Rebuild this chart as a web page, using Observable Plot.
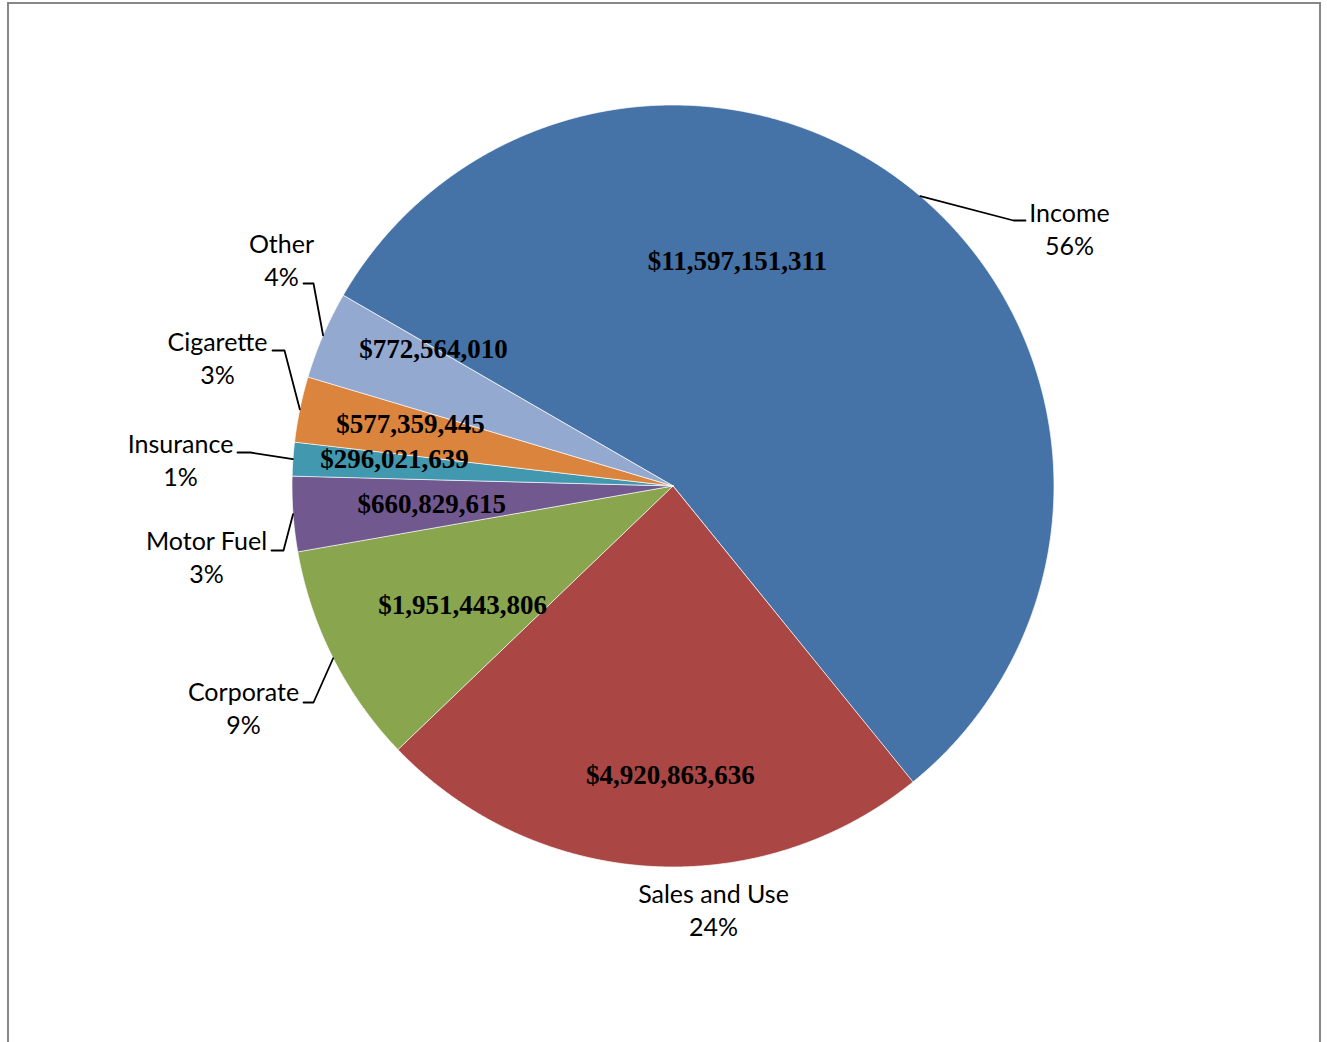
<!DOCTYPE html>
<html><head><meta charset="utf-8">
<script src="https://cdn.jsdelivr.net/npm/d3@7"></script>
<script src="https://cdn.jsdelivr.net/npm/@observablehq/plot@0.6"></script>
<style>html,body{margin:0;padding:0;background:#fff;overflow:hidden}</style>
</head><body><div id="chart"></div>
<script>
// ---- data ----
const categories = ["Income", "Sales and Use", "Corporate", "Motor Fuel", "Insurance", "Cigarette", "Other"];
const revenues = [11597151311, 4920863636, 1951443806, 660829615, 296021639, 577359445, 772564010];
const valueLabels = ["$11,597,151,311", "$4,920,863,636", "$1,951,443,806", "$660,829,615", "$296,021,639", "$577,359,445", "$772,564,010"];
const percentLabels = ["56%", "24%", "9%", "3%", "1%", "3%", "4%"];
const colors = ["#4572A7", "#AA4643", "#89A54E", "#71588F", "#4198AF", "#DB843D", "#93A9CF"];

// ---- layout ----
const W = 1327, H = 1042, CX = 672.5, CY = 485.5, R = 381, START_DEG = -60;
// value label placement (polar: angle in degrees clockwise from 12 o'clock, radius fraction)
const valuePlace = [[16, 0.613], [180.5, 0.76], [240.4, 0.635], [265.6, 0.635], [275.4, 0.734], [283.2, 0.708], [299.7, 0.724]];
// category label placement: [centerX, lastBaselineY]
const catPlace = [[1069, 254], [713, 935], [243, 733], [206, 582], [180, 485], [217, 383], [281, 285]];
// leader stub: [stubX, stubY, elbowDx] or null
const leaderStub = [[1025, 220, -12], null, [303, 702, 10], [271, 550, 12], [237, 452, 13], [272, 350, 12], [303, 283, 10]];

const rad = d => d * Math.PI / 180;
const pt = (a, r) => [CX + r * Math.sin(a), CY - r * Math.cos(a)];

const arcs = d3.pie().sort(null).startAngle(rad(START_DEG)).endAngle(rad(START_DEG + 360))(revenues);

const slicePts = [];
arcs.forEach((a, i) => {
  slicePts.push({cat: categories[i], x: CX, y: CY});
  const n = Math.max(2, Math.ceil((a.endAngle - a.startAngle) / rad(0.25)));
  for (let k = 0; k <= n; k++) {
    const ang = a.startAngle + (a.endAngle - a.startAngle) * k / n;
    const [x, y] = pt(ang, R);
    slicePts.push({cat: categories[i], x, y});
  }
});

const valueText = arcs.map((a, i) => {
  const [x, y] = pt(rad(valuePlace[i][0]), R * valuePlace[i][1]);
  return {x, y, text: valueLabels[i]};
});

const catText = categories.map((c, i) => ({x: catPlace[i][0], y: catPlace[i][1], text: c + "\n" + percentLabels[i]}));

const leaderPts = [];
arcs.forEach((a, i) => {
  const s = leaderStub[i];
  if (!s) return;
  const mid = (a.startAngle + a.endAngle) / 2;
  const [ex, ey] = pt(mid, R);
  leaderPts.push({cat: categories[i], x: s[0], y: s[1]});
  leaderPts.push({cat: categories[i], x: s[0] + s[2], y: s[1]});
  leaderPts.push({cat: categories[i], x: ex, y: ey});
});

const chart = Plot.plot({
  width: W, height: H,
  margin: 0,
  x: {type: "identity", axis: null},
  y: {type: "identity", axis: null},
  color: {domain: categories, range: colors},
  style: {background: "#fff"},
  marks: [
    Plot.rect([0], {x1: () => 8, x2: () => 1320, y1: () => 3, y2: () => 1060, fill: "none", stroke: "#878787", strokeWidth: 2}),
    Plot.line(slicePts, {x: "x", y: "y", z: "cat", fill: "cat", stroke: "#ffffff", strokeWidth: 1, strokeOpacity: 0.7, curve: "linear-closed"}),
    Plot.line(leaderPts, {x: "x", y: "y", z: "cat", stroke: "#000", strokeWidth: 1.8}),
    Plot.text(valueText, {x: "x", y: "y", text: "text", fontFamily: "Liberation Serif", fontWeight: "bold", fontSize: 27, fill: "#000", textAnchor: "middle", lineAnchor: "middle"}),
    Plot.text(catText, {x: "x", y: "y", text: "text", fontFamily: "Lato", fontSize: 25, lineHeight: 1.3, fill: "#000", textAnchor: "middle", lineAnchor: "bottom"})
  ]
});
document.getElementById("chart").appendChild(chart);
</script>
</body></html>
